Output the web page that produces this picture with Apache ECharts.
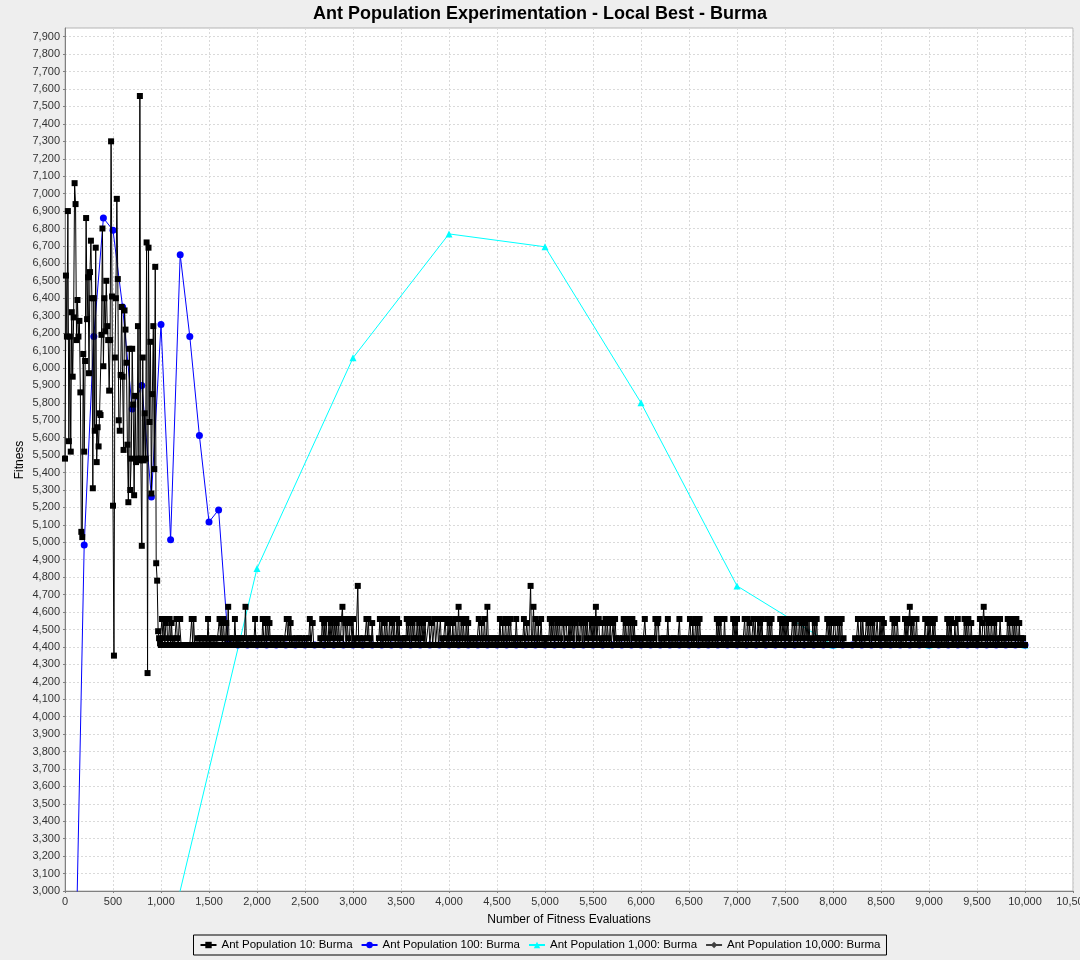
<!DOCTYPE html>
<html><head><meta charset="utf-8">
<script src="https://cdn.jsdelivr.net/npm/echarts@6/dist/echarts.min.js"></script>
<style>html,body{margin:0;padding:0;background:#eeeeee}#c{width:1080px;height:960px}</style>
</head><body><div id="c"></div>
<script>
const titleText = 'Ant Population Experimentation - Local Best - Burma';
const xName = 'Number of Fitness Evaluations';
const yName = 'Fitness';
const seriesNames = ['Ant Population 10: Burma', 'Ant Population 100: Burma', 'Ant Population 1,000: Burma', 'Ant Population 10,000: Burma'];

// Ant population 10: one value every 10 evaluations, starting at 0
const pop10Start = 0, pop10Step = 10;
const pop10 = [
5480,6530,6180,6900,5580,6180,5520,6320,5950,6290,
7060,6940,6160,6390,6180,6270,5860,5060,5030,6080,
5520,6040,6860,6280,6520,5970,6550,6730,6400,5310,
6400,5640,6690,5460,5660,5550,5740,5730,6190,6800,
6010,6400,6210,6500,6240,6160,5870,6160,7300,6410,
5210,4350,6060,6400,6970,6510,5700,5640,5960,6350,
5950,5530,6330,6220,6030,5560,5230,6110,5300,5480,
6110,5790,5270,5840,5460,5480,6240,5470,7560,5480,
4980,6060,5470,5740,5480,6720,4250,6690,5690,6150,
5280,5850,6240,5420,6580,4880,4780,4490,4450,4420,
4411,4560,4450,4560,4411,4537,4560,4411,4450,4560,
4411,4537,4411,4450,4411,4411,4560,4450,4411,4560,
4560,4411,4411,4411,4411,4411,4411,4411,4411,4411,
4411,4411,4560,4411,4560,4411,4411,4411,4450,4411,
4411,4450,4411,4411,4450,4411,4411,4450,4411,4560,
4411,4450,4411,4411,4450,4411,4411,4450,4411,4411,
4411,4560,4450,4537,4411,4560,4450,4411,4537,4411,
4630,4411,4450,4411,4411,4450,4411,4560,4411,4450,
4411,4450,4411,4411,4450,4411,4411,4450,4630,4411,
4411,4450,4411,4411,4450,4411,4411,4450,4560,4411,
4411,4450,4411,4411,4450,4411,4560,4450,4411,4537,
4411,4560,4450,4537,4411,4450,4411,4411,4450,4411,
4411,4450,4411,4411,4450,4411,4411,4450,4411,4411,
4411,4560,4450,4560,4411,4537,4411,4450,4411,4411,
4411,4450,4411,4411,4450,4411,4411,4450,4411,4411,
4411,4450,4411,4411,4450,4560,4411,4411,4537,4411,
4411,4411,4411,4411,4411,4411,4450,4411,4560,4450,
4537,4411,4560,4450,4411,4560,4411,4537,4450,4560,
4411,4560,4450,4537,4411,4560,4411,4450,4560,4630,
4411,4560,4537,4411,4560,4450,4411,4537,4560,4411,
4560,4411,4450,4411,4411,4750,4411,4450,4411,4411,
4411,4450,4411,4411,4560,4450,4560,4411,4450,4411,
4537,4411,4411,4411,4411,4411,4411,4450,4560,4411,
4560,4411,4450,4537,4411,4560,4450,4411,4560,4411,
4411,4537,4450,4560,4411,4450,4560,4411,4537,4411,
4411,4450,4411,4411,4450,4411,4560,4450,4537,4411,
4560,4411,4537,4450,4560,4411,4450,4560,4411,4537,
4411,4560,4450,4537,4411,4560,4411,4411,4411,4560,
4411,4411,4537,4411,4411,4560,4411,4411,4560,4411,
4411,4560,4411,4450,4411,4411,4560,4450,4411,4537,
4411,4560,4450,4411,4537,4411,4450,4560,4411,4450,
4630,4411,4450,4560,4411,4537,4450,4411,4560,4411,
4537,4411,4450,4411,4411,4450,4411,4411,4450,4411,
4411,4560,4450,4411,4537,4411,4450,4560,4411,4450,
4630,4411,4450,4411,4411,4450,4411,4411,4450,4411,
4411,4450,4411,4560,4450,4411,4537,4411,4450,4560,
4411,4450,4537,4411,4560,4450,4411,4411,4450,4411,
4560,4450,4411,4411,4450,4411,4411,4450,4560,4411,
4411,4537,4450,4411,4411,4750,4411,4450,4630,4411,
4560,4450,4411,4537,4411,4450,4560,4411,4411,4450,
4411,4450,4411,4411,4450,4560,4411,4537,4450,4560,
4411,4560,4450,4537,4411,4560,4450,4411,4537,4560,
4411,4537,4560,4450,4411,4560,4411,4537,4450,4560,
4411,4560,4537,4411,4560,4450,4411,4560,4537,4411,
4560,4411,4537,4450,4560,4411,4411,4560,4450,4537,
4411,4560,4450,4630,4411,4537,4560,4411,4450,4411,
4537,4411,4450,4560,4411,4537,4450,4411,4560,4411,
4411,4537,4411,4560,4450,4411,4411,4450,4411,4411,
4411,4450,4560,4411,4537,4450,4411,4560,4411,4537,
4411,4560,4450,4537,4411,4450,4411,4411,4450,4411,
4411,4450,4411,4411,4560,4450,4411,4411,4450,4411,
4411,4450,4411,4411,4450,4560,4411,4537,4560,4411,
4411,4450,4411,4411,4450,4411,4411,4450,4560,4411,
4411,4450,4411,4411,4450,4411,4411,4450,4411,4411,
4560,4411,4450,4411,4411,4450,4411,4411,4450,4411,
4411,4560,4450,4411,4537,4411,4450,4560,4411,4537,
4411,4560,4450,4411,4411,4450,4411,4411,4450,4411,
4411,4450,4411,4411,4450,4411,4411,4450,4411,4560,
4411,4537,4450,4560,4411,4450,4411,4560,4411,4450,
4411,4450,4411,4411,4450,4411,4560,4450,4537,4411,
4560,4411,4450,4411,4411,4450,4411,4411,4560,4411,
4450,4560,4411,4537,4450,4411,4411,4560,4450,4560,
4411,4450,4560,4411,4537,4450,4560,4411,4450,4411,
4411,4450,4560,4411,4537,4450,4560,4411,4450,4411,
4411,4450,4411,4411,4450,4560,4411,4537,4450,4560,
4411,4537,4450,4560,4411,4450,4411,4411,4560,4411,
4537,4450,4560,4411,4450,4560,4411,4537,4450,4560,
4411,4537,4450,4560,4411,4560,4411,4450,4411,4560,
4411,4537,4450,4560,4411,4450,4411,4411,4450,4411,
4411,4450,4411,4411,4560,4450,4537,4411,4560,4450,
4411,4560,4537,4411,4450,4560,4411,4537,4411,4560,
4411,4450,4411,4411,4411,4411,4411,4411,4411,4411,
4411,4411,4411,4450,4411,4411,4560,4450,4411,4560,
4411,4560,4450,4411,4411,4560,4450,4537,4411,4560,
4411,4537,4450,4560,4411,4411,4560,4450,4411,4560,
4411,4560,4450,4537,4411,4450,4411,4411,4450,4411,
4411,4450,4560,4411,4537,4450,4411,4560,4450,4411,
4411,4450,4411,4411,4450,4560,4411,4537,4450,4560,
4630,4411,4537,4450,4560,4411,4450,4560,4411,4450,
4411,4450,4411,4411,4450,4411,4560,4450,4411,4537,
4411,4560,4450,4411,4537,4450,4560,4411,4450,4411,
4411,4450,4411,4411,4450,4411,4411,4450,4411,4560,
4411,4537,4450,4560,4411,4450,4411,4537,4411,4450,
4560,4411,4450,4411,4411,4450,4411,4560,4450,4537,
4411,4560,4450,4411,4537,4411,4450,4411,4411,4450,
4411,4450,4411,4560,4450,4411,4537,4630,4450,4411,
4560,4411,4537,4450,4411,4560,4450,4411,4537,4411,
4560,4411,4450,4411,4560,4450,4411,4411,4450,4411,
4411,4450,4560,4411,4537,4450,4411,4560,4450,4537,
4411,4560,4450,4411,4537,4411,4450,4411,4450,4411,
4411
];

// Ant population 100: one value every 100 evaluations, starting at 100
const pop100Start = 100, pop100Step = 100;
const pop100 = [
2250,4985,6180,6860,6790,6350,5765,5900,5260,6250,
5014,6650,6180,5612,5117,5186,4430,4411,4411,4411,
4411,4411,4411,4411,4411,4411,4411,4411,4411,4411,
4411,4411,4411,4411,4411,4411,4411,4411,4411,4411,
4411,4411,4411,4411,4411,4411,4411,4411,4411,4411,
4411,4411,4411,4411,4411,4411,4411,4411,4411,4411,
4411,4411,4411,4411,4411,4411,4411,4411,4411,4411,
4411,4411,4411,4411,4411,4411,4411,4411,4411,4411,
4411,4411,4411,4411,4411,4411,4411,4411,4411,4411,
4411,4411,4411,4411,4411,4411,4411,4411,4411,4411
];

// Ant population 1,000: one value every 1,000 evaluations, starting at 1,000
const pop1000Start = 1000, pop1000Step = 1000;
const pop1000 = [2540,4850,6058,6769,6695,5800,4750,4411,4411,4411];

// Ant population 10,000: a single value at 10,000 evaluations
const pop10000Start = 10000, pop10000Step = 10000;
const pop10000 = [4411];

const xTicks = {min: 0, max: 10500, interval: 500};
const yTicks = {min: 3000, max: 7950, interval: 100};

function pairs(vals, start, step) {
  return vals.map((v, i) => [start + i * step, v]);
}
const fmt = v => Number(v).toLocaleString('en-US');
const FONT = '"Liberation Sans", Arial, sans-serif';

const chart = echarts.init(document.getElementById('c'), null, {renderer: 'canvas'});
const axisCommon = {
  axisLine: {show: true, lineStyle: {color: '#808080', width: 1}},
  axisTick: {show: true, length: 2, inside: false, lineStyle: {color: '#808080'}},
  splitLine: {show: true, lineStyle: {color: '#dadada', width: 1, type: [2, 2]}},
};
chart.setOption({
  backgroundColor: '#eeeeee',
  animation: false,
  title: {
    text: titleText, left: 'center', top: 0,
    textStyle: {fontFamily: FONT, fontSize: 18, fontWeight: 'bold', color: '#000'}
  },
  grid: {left: 65, right: 7, top: 28, bottom: 69, show: true, backgroundColor: '#ffffff', borderColor: '#b4b4b4', borderWidth: 1, containLabel: false, outerBoundsMode: 'none'},
  legend: {
    data: seriesNames, top: 935, left: 'center', orient: 'horizontal',
    padding: [4, 6], itemGap: 8, itemWidth: 16, itemHeight: 8,
    borderColor: '#000', borderWidth: 1, borderRadius: 0,
    textStyle: {fontFamily: FONT, fontSize: 11.5, color: '#000'}
  },
  graphic: [{
    type: 'text', x: 20, y: 460, rotation: Math.PI / 2, silent: true,
    style: {text: yName, fontFamily: FONT, fontSize: 12, fill: '#000', align: 'center', verticalAlign: 'middle'}
  }],
  xAxis: Object.assign({
    type: 'value', min: xTicks.min, max: xTicks.max, interval: xTicks.interval,
    name: xName, nameLocation: 'middle', nameGap: 23,
    nameTextStyle: {fontFamily: FONT, fontSize: 12, color: '#000'},
    axisLabel: {formatter: fmt, fontFamily: FONT, fontSize: 11, color: '#333', margin: 5}
  }, axisCommon),
  yAxis: Object.assign({
    type: 'value', min: yTicks.min, max: yTicks.max, interval: yTicks.interval,
    axisLabel: {formatter: fmt, fontFamily: FONT, fontSize: 11, color: '#333', margin: 5, showMaxLabel: false}
  }, axisCommon),
  series: [
    {name: seriesNames[0], type: 'line', data: pairs(pop10, pop10Start, pop10Step), z: 6,
     symbol: 'rect', symbolSize: 6, showSymbol: true, clip: true,
     lineStyle: {color: '#000000', width: 1}, itemStyle: {color: '#000000'}},
    {name: seriesNames[1], type: 'line', data: pairs(pop100, pop100Start, pop100Step), z: 5,
     symbol: 'circle', symbolSize: 7, showSymbol: true, clip: true,
     lineStyle: {color: '#0000ff', width: 1}, itemStyle: {color: '#0000ff'}},
    {name: seriesNames[2], type: 'line', data: pairs(pop1000, pop1000Start, pop1000Step), z: 4,
     symbol: 'triangle', symbolSize: 7, showSymbol: true, clip: true,
     lineStyle: {color: '#00ffff', width: 1}, itemStyle: {color: '#00ffff'}},
    {name: seriesNames[3], type: 'line', data: pairs(pop10000, pop10000Start, pop10000Step), z: 3,
     symbol: 'diamond', symbolSize: 7, showSymbol: true, clip: true,
     lineStyle: {color: '#404040', width: 1}, itemStyle: {color: '#404040'}}
  ]
});
</script></body></html>
